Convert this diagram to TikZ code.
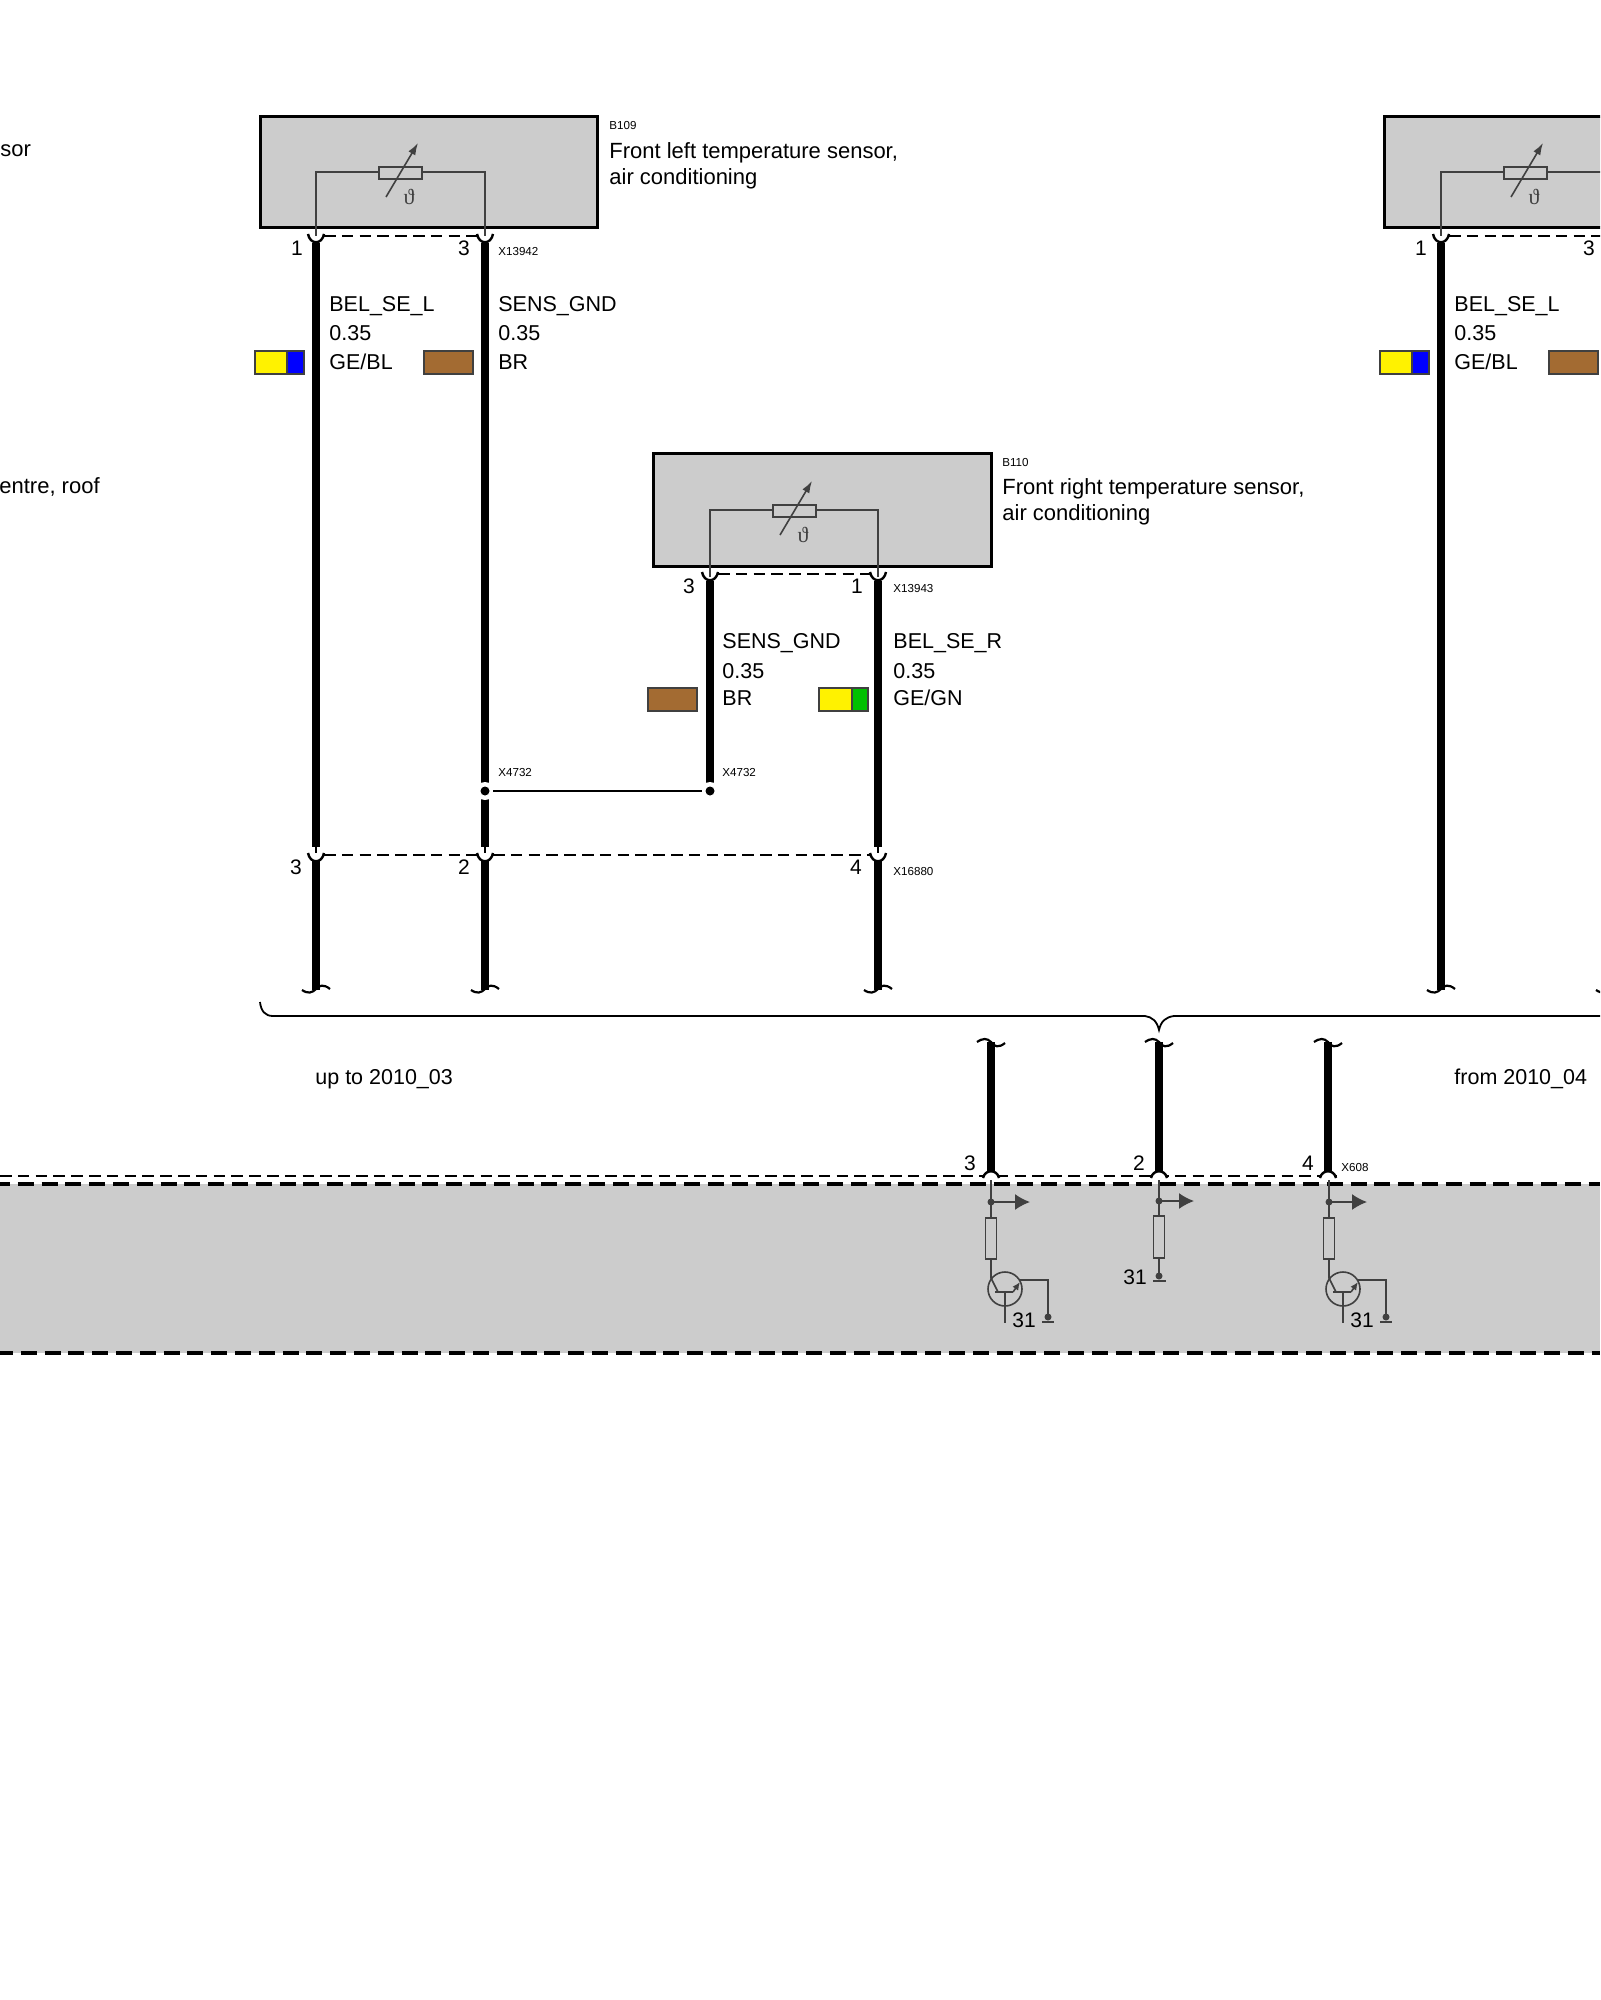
\documentclass[tikz,border=0pt]{standalone}
\usepackage{fontspec}
\setmainfont{Liberation Sans}
\newfontfamily\thetafont{Liberation Serif}
\usepackage{xcolor}
\usetikzlibrary{arrows.meta, positioning}
\definecolor{boxgrey}{HTML}{CCCCCC}
\definecolor{partgrey}{HTML}{404040}
\definecolor{wirebrown}{HTML}{A36B32}
\definecolor{wiregreen}{HTML}{00C000}
\tikzset{
  sensorbox/.style={draw=black, fill=boxgrey, line width=1.9pt},
  wirethick/.style={line width=4pt, black},
  wirethin/.style={line width=0.8pt, black},
  wiremark/.style={line width=1.1pt, black},
  partline/.style={line width=0.8pt, partgrey},
  rowdash/.style={line width=1pt, black, dash pattern=on 5.8pt off 3.1pt},
  zonedash/.style={line width=1.9pt, black, dash pattern=on 8pt off 3.9pt},
  wiretext/.style={inner sep=0pt, anchor=west, font=\fontsize{10.75}{12}\selectfont},
  nametext/.style={inner sep=0pt, anchor=west, font=\fontsize{11}{12}\selectfont},
  pintext/.style={inner sep=0pt, font=\fontsize{10.5}{12}\selectfont},
  tagtext/.style={inner sep=0pt, anchor=west, font=\fontsize{5.8}{7}\selectfont},
  swatch/.style={draw=partgrey, line width=0.7pt},
  dotnode/.style={circle, fill=black, inner sep=0pt, minimum size=4.5pt},
  partdot/.style={circle, fill=partgrey, inner sep=0pt, minimum size=3.5pt},
  pics/thermistor/.style={code={
    \draw[partline, fill=boxgrey] (63,-5) rectangle (106,7);
    \draw[partline, -{Latex[length=6pt,width=4pt]}] (70,25) -- (102,-29);
    \node[inner sep=0pt, partgrey, font=\thetafont\fontsize{11}{12}\selectfont] at (93,25) {ϑ};
  }},
  pics/driver/.style={code={
    \draw[partline, fill=boxgrey] (-5.5,16) rectangle (5.5,57);
    \draw[partline] (0,57) -- (0,76) -- (7,90);
    \draw[partline] (14,90) -- (14,121);
    \draw[partline] (4,90) -- (22,90);
    \draw[partline, -{Latex[length=4pt,width=3.5pt]}] (22,90) -- (29,80);
    \draw[partline] (29,78) -- (57,78) -- (57,115);
    \draw[partline] (14,87) circle (17);
    \node[partdot] at (57,115) {};
    \draw[partline] (51,120) -- (63,120);
    \node[pintext] at (33,118) {31};
  }},
  pics/feed/.style={code={
    \node[partdot] at (0,0) {};
    \draw[partline, -{Latex[length=7.5pt,width=8pt]}] (0,0) -- (#1,0);
  }}
}
% wire end marks
\newcommand{\wirelow}[1]{\draw[wiremark] (#1-14,990) .. controls (#1-8,994) and (#1-4,993) .. (#1,989) .. controls (#1+3,985) and (#1+8,984) .. (#1+14,989);}
\newcommand{\wirehigh}[1]{\draw[wiremark] (#1-14,1042) .. controls (#1-8,1038) and (#1-4,1038) .. (#1,1042) .. controls (#1+3,1047) and (#1+8,1048) .. (#1+14,1043);}
\newcommand{\cupdown}[2]{\draw[line width=1.2pt] (#1-8,#2-2) .. controls (#1-6,#2+9) and (#1+6,#2+9) .. (#1+8,#2-2);}
\newcommand{\cupup}[2]{\draw[line width=1.2pt] (#1-8,#2+2) .. controls (#1-6,#2-7) and (#1+6,#2-7) .. (#1+8,#2+2);}
\begin{document}
\begin{tikzpicture}[x=0.5pt, y=-0.5pt]
\clip (0,0) rectangle (1600,2000);
% zone at the bottom
\fill[boxgrey] (0,1184) rectangle (1600,1353);
\draw[zonedash, dash phase=3pt] (0,1184) -- (1600,1184);
\draw[zonedash, dash phase=1.5pt] (0,1353) -- (1600,1353);
\draw[rowdash] (0,1176) -- (1337,1176);
% sensor boxes
\node[sensorbox, minimum width=168.5pt, minimum height=55.5pt, inner sep=0pt] (b109) at (429,172) {};
\node[sensorbox, minimum width=169pt, minimum height=56.5pt, inner sep=0pt] (b110) at (822.5,510) {};
\node[sensorbox, minimum width=168.5pt, minimum height=55.5pt, inner sep=0pt] (b111) at (1553,172) {};
\draw[partline] (316,236) -- (316,172) -- (379,172);
\draw[partline] (485,236) -- (485,172) -- (422,172);
\pic at (316,172) {thermistor};
\draw[partline] (710,577) -- (710,510) -- (773,510);
\draw[partline] (878,577) -- (878,510) -- (816,510);
\pic at (710,510) {thermistor};
\draw[partline] (1441,236) -- (1441,172) -- (1504,172);
\draw[partline] (1610,236) -- (1610,172) -- (1547,172);
\pic at (1441,172) {thermistor};
% connectors under the boxes
\draw[rowdash] (324,236) -- (477,236);
\cupdown{316}{236} \cupdown{485}{236}
\draw[rowdash] (718,574) -- (870,574);
\cupdown{710}{574} \cupdown{878}{574}
\draw[rowdash] (1449,236) -- (1602,236);
\cupdown{1441}{236} \cupdown{1610}{236}
\draw[rowdash] (324,855) -- (477,855);
\draw[rowdash] (493,855) -- (870,855);
\cupdown{316}{855} \cupdown{485}{855} \cupdown{878}{855}
% wires
\foreach \wx/\wtop in {316/243, 485/243, 878/581, 1441/243, 710/581} {
  \coordinate (wa\wx) at (\wx,\wtop);
}
\draw[wirethick] (wa316) -- (316,847);
\draw[wirethick] (316,860) -- (316,990);
\draw[wirethick] (wa485) -- (485,847);
\draw[wirethick] (485,860) -- (485,990);
\draw[wirethick] (wa878) -- (878,847);
\draw[wirethick] (878,860) -- (878,990);
\draw[wirethick] (wa710) -- (710,785);
\draw[wirethick] (wa1441) -- (1441,990);
\draw[wirethin] (316,847) -- (316,853);
\draw[wirethin] (485,847) -- (485,853);
\draw[wirethin] (878,847) -- (878,853);
\wirelow{316} \wirelow{485} \wirelow{878} \wirelow{1441} \wirelow{1610}
% splice
\fill[white] (485,791) circle (9);
\node[dotnode] (s1) at (485,791) {};
\fill[white] (710,791) circle (9);
\node[dotnode] (s2) at (710,791) {};
\draw[wirethin] (s1) ++(8,0) -- (702,791);
\node[tagtext] (t1) at (498,773) {X4732};
\node[tagtext] (t2) at (722,773) {X4732};
% brace
\draw[line width=0.9pt] (260,1002) .. controls (261,1011) and (265,1016) .. (273,1016) -- (1145,1016) .. controls (1152,1017) and (1157,1021) .. (1159,1030) .. controls (1161,1021) and (1166,1017) .. (1174,1016) -- (1600,1016);
\node[wiretext] (l1) at (315,1079) {up to 2010\_03};
\node[wiretext] (l2) at (1454,1079) {from 2010\_04};
% names
\node[tagtext] (n1) at (609,126) {B109};
\node[nametext] (n2) at (609,153) {Front left temperature sensor,};
\node[nametext] (n3) at (609,179) {air conditioning};
\node[tagtext] (n4) at (1002,463) {B110};
\node[nametext] (n5) at (1002,488.5) {Front right temperature sensor,};
\node[nametext] (n6) at (1002,514.5) {air conditioning};
\node[nametext] (n7) at (0,151) {sor};
\node[nametext] (n8) at (-1,487) {entre, roof};
\node[pintext] (p1) at (297,248) {1};
\node[pintext] (p2) at (464,248) {3};
\node[tagtext] (x1) at (498,252) {X13942};
\node[pintext] (p3) at (689,586) {3};
\node[pintext] (p4) at (857,586) {1};
\node[tagtext] (x2) at (893,589) {X13943};
\node[pintext] (p5) at (296,867) {3};
\node[pintext] (p6) at (464,867) {2};
\node[pintext] (p7) at (856,867) {4};
\node[tagtext] (x3) at (893,871) {X16880};
\node[pintext] (p8) at (1421,248) {1};
\node[pintext] (p9) at (1589,248) {3};
% wire data
\node[wiretext] (e1) at (329,306.5) {BEL\_SE\_L};
\node[wiretext] (d1) at (329,333) {0.35};
\node[wiretext] (d2) at (329,362) {GE/BL};
\node[wiretext] (e2) at (498,306.5) {SENS\_GND};
\node[wiretext] (d3) at (498,333) {0.35};
\node[wiretext] (d4) at (498,362) {BR};
\node[wiretext] (e3) at (722,643.5) {SENS\_GND};
\node[wiretext] (d5) at (722,671) {0.35};
\node[wiretext] (d6) at (722,698) {BR};
\node[wiretext] (e4) at (893,643.5) {BEL\_SE\_R};
\node[wiretext] (d7) at (893,671) {0.35};
\node[wiretext] (d8) at (893,698) {GE/GN};
\node[wiretext] (e5) at (1454,306.5) {BEL\_SE\_L};
\node[wiretext] (d9) at (1454,333) {0.35};
\node[wiretext] (d10) at (1454,362) {GE/BL};
% colour swatches
\draw[swatch, fill=yellow] (255,351) rectangle (287,374);
\draw[swatch, fill=blue] (287,351) rectangle (304,374);
\draw[swatch, fill=wirebrown] (424,351) rectangle (473,374);
\draw[swatch, fill=wirebrown] (648,688) rectangle (697,711);
\draw[swatch, fill=yellow] (819,688) rectangle (852,711);
\draw[swatch, fill=wiregreen] (852,688) rectangle (868,711);
\draw[swatch, fill=yellow] (1380,351) rectangle (1412,374);
\draw[swatch, fill=blue] (1412,351) rectangle (1429,374);
\draw[swatch, fill=wirebrown] (1549,351) rectangle (1598,374);
% lower wires
\wirehigh{991} \wirehigh{1159} \wirehigh{1328}
\draw[wirethick] (991,1042) -- (991,1172);
\draw[wirethick] (1159,1042) -- (1159,1172);
\draw[wirethick] (1328,1042) -- (1328,1172);
\fill[white] (991,1176) ellipse (7 and 4);
\fill[white] (1159,1176) ellipse (7 and 4);
\fill[white] (1328,1176) ellipse (7 and 4);
\cupup{991}{1176} \cupup{1159}{1176} \cupup{1328}{1176}
\node[pintext] (q1) at (970,1163) {3};
\node[pintext] (q2) at (1139,1163) {2};
\node[pintext] (q3) at (1308,1163) {4};
\node[tagtext] (x4) at (1341,1167) {X608};
% parts in the zone
\draw[partline] (991,1180) -- (991,1218);
\pic at (991,1202) {feed=39};
\pic at (991,1202) {driver};
\draw[partline] (1159,1180) -- (1159,1216);
\pic at (1159,1201) {feed=35};
\draw[partline, fill=boxgrey] (1153.5,1216) rectangle (1164.5,1258);
\draw[partline] (1159,1258) -- (1159,1276);
\node[partdot] (g1) at (1159,1276) {};
\draw[partline] (1153,1281) -- (1166,1281);
\node[pintext] (q4) at (1135,1277) {31};
\draw[partline] (1329,1180) -- (1329,1218);
\pic at (1329,1202) {feed=38};
\pic at (1329,1202) {driver};
\end{tikzpicture}
\end{document}
